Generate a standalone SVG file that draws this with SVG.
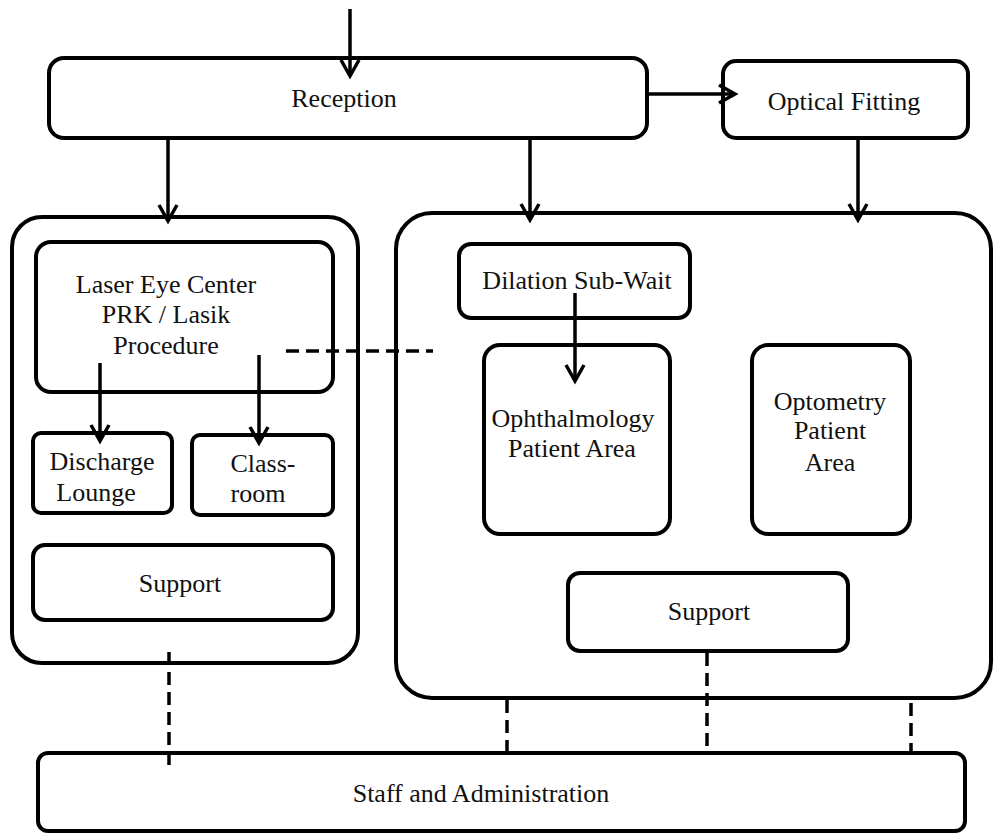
<svg xmlns="http://www.w3.org/2000/svg" width="994" height="833" viewBox="0 0 994 833">
<defs>
<style>
.box{fill:#fff;stroke:#000;stroke-width:4}
.lbl{font-family:"Liberation Serif","Times New Roman",serif;font-size:26px;fill:#111;text-anchor:middle}
.arr{stroke:#000;stroke-width:3.5;fill:none}
.dash{stroke:#000;stroke-width:3.5;fill:none;stroke-dasharray:13 7}
</style>
<marker id="ah" markerUnits="userSpaceOnUse" markerWidth="20" markerHeight="20" refX="0" refY="0" orient="auto" overflow="visible">
<path d="M-16,-9 L0,0 L-16,9" fill="none" stroke="#000" stroke-width="3.5" stroke-linejoin="miter"/>
</marker>
</defs>
<rect width="994" height="833" fill="#fff"/>

<g id="left-zone"><rect class="box" x="12" y="217" width="346" height="446" rx="30"/></g>
<g id="right-zone"><rect class="box" x="396" y="213" width="595" height="485" rx="36"/></g>

<g id="reception"><rect class="box" x="49" y="58" width="598" height="80" rx="15"/><text class="lbl" x="344" y="107">Reception</text></g>
<g id="optical-fitting"><rect class="box" x="723" y="61" width="245" height="77" rx="13"/><text class="lbl" x="844" y="110">Optical Fitting</text></g>

<g id="laser-eye-center"><rect class="box" x="36" y="242" width="297" height="150" rx="15"/>
<text class="lbl" x="166" y="293">Laser Eye Center</text>
<text class="lbl" x="166" y="323">PRK / Lasik</text>
<text class="lbl" x="166" y="354">Procedure</text></g>
<g id="discharge-lounge"><rect class="box" x="33" y="433" width="139" height="80" rx="8"/>
<text class="lbl" x="102" y="470">Discharge</text>
<text class="lbl" x="96" y="501">Lounge</text></g>
<g id="classroom"><rect class="box" x="192" y="435" width="141" height="80" rx="8"/>
<text class="lbl" x="263" y="472">Class-</text>
<text class="lbl" x="258" y="502">room</text></g>
<g id="support-left"><rect class="box" x="33" y="545" width="300" height="75" rx="12"/>
<text class="lbl" x="180" y="592">Support</text></g>

<g id="dilation-sub-wait"><rect class="box" x="459" y="244" width="231" height="74" rx="12"/>
<text class="lbl" x="577" y="289">Dilation Sub-Wait</text></g>
<g id="ophthalmology"><rect class="box" x="484" y="345" width="186" height="189" rx="16"/>
<text class="lbl" x="573" y="427">Ophthalmology</text>
<text class="lbl" x="572" y="457">Patient Area</text></g>
<g id="optometry"><rect class="box" x="752" y="345" width="158" height="189" rx="16"/>
<text class="lbl" x="830" y="410">Optometry</text>
<text class="lbl" x="830" y="439">Patient</text>
<text class="lbl" x="830" y="471">Area</text></g>
<g id="support-right"><rect class="box" x="568" y="573" width="280" height="78" rx="12"/>
<text class="lbl" x="709" y="620">Support</text></g>

<g id="staff-admin"><rect class="box" x="38" y="753" width="927" height="78" rx="10"/>
<text class="lbl" x="481" y="802">Staff and Administration</text></g>

<g id="connectors">
<line class="arr" x1="350" y1="9" x2="350" y2="76" marker-end="url(#ah)"/>
<line class="arr" x1="647" y1="94" x2="735" y2="94" marker-end="url(#ah)"/>
<line class="arr" x1="168" y1="138" x2="168" y2="221" marker-end="url(#ah)"/>
<line class="arr" x1="530" y1="138" x2="530" y2="220" marker-end="url(#ah)"/>
<line class="arr" x1="858" y1="138" x2="858" y2="220" marker-end="url(#ah)"/>
<line class="arr" x1="100" y1="363" x2="100" y2="441" marker-end="url(#ah)"/>
<line class="arr" x1="259" y1="355" x2="259" y2="443" marker-end="url(#ah)"/>
<line class="arr" x1="575" y1="293" x2="575" y2="381" marker-end="url(#ah)"/>
<line class="dash" x1="286" y1="351" x2="433" y2="351"/>
<line class="dash" x1="169" y1="652" x2="169" y2="765"/>
<line class="dash" x1="507" y1="700" x2="507" y2="753"/>
<line class="dash" x1="707" y1="653" x2="707" y2="751"/>
<line class="dash" x1="911" y1="703" x2="911" y2="753"/>
</g>
</svg>
